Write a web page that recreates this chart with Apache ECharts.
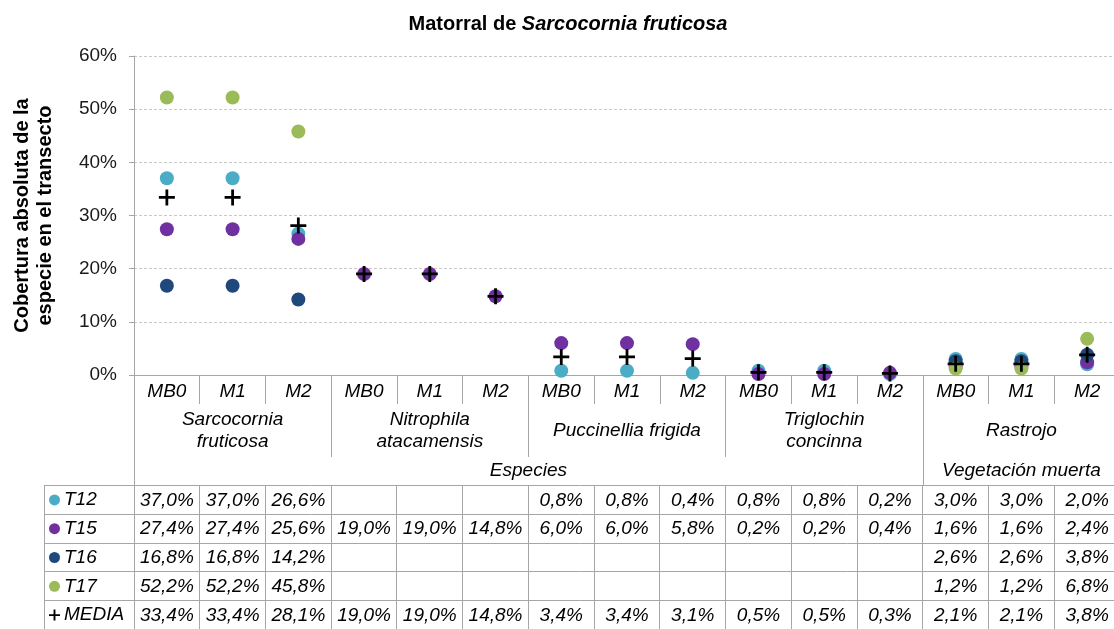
<!DOCTYPE html>
<html>
<head>
<meta charset="utf-8">
<script src="https://cdn.jsdelivr.net/npm/echarts@6/dist/echarts.min.js"></script>
<style>
  html, body { margin: 0; padding: 0; background: #fff; }
  #chart { width: 1114px; height: 629px; }
</style>
</head>
<body>
<div id="chart"></div>
<script>
// ---- data ----
const months = ['MB0', 'M1', 'M2'];
const species = ['Sarcocornia\nfruticosa', 'Nitrophila\natacamensis', 'Puccinellia frigida', 'Triglochin\nconcinna', 'Rastrojo'];
const speciesTypes = ['Especies', 'Vegetación muerta'];
const speciesTypeSpans = [12, 3];   // number of columns under each type
const categories = species.flatMap(() => months);

const seriesNames = ['T12', 'T15', 'T16', 'T17', 'MEDIA'];
const t12   = [37.0, 37.0, 26.6, null, null, null, 0.8, 0.8, 0.4, 0.8, 0.8, 0.2, 3.0, 3.0, 2.0];
const t15   = [27.4, 27.4, 25.6, 19.0, 19.0, 14.8, 6.0, 6.0, 5.8, 0.2, 0.2, 0.4, 1.6, 1.6, 2.4];
const t16   = [16.8, 16.8, 14.2, null, null, null, null, null, null, null, null, null, 2.6, 2.6, 3.8];
const t17   = [52.2, 52.2, 45.8, null, null, null, null, null, null, null, null, null, 1.2, 1.2, 6.8];
const media = [33.4, 33.4, 28.1, 19.0, 19.0, 14.8, 3.4, 3.4, 3.1, 0.5, 0.5, 0.3, 2.1, 2.1, 3.8];
const seriesValues = [t12, t15, t16, t17, media];
const seriesColors = ['#4bacc6', '#7030a0', '#1f497d', '#9bbb59', '#000000'];

// ---- style / layout ----
const FONT = "'Liberation Sans', Arial, sans-serif";
const LINE_COLOR = '#a6a6a6';
const TABLE_LEFT = 44;
const TABLE_TOP = 485.5;
const ROW_H = 28.8;
const PLUS = 'path://M6.2,0H8.8V6.2H15V8.8H8.8V15H6.2V8.8H0V6.2H6.2Z';

const fmt = v => (v == null ? '' : v.toFixed(1).replace('.', ',') + '%');

// boundaries / centres of the species-type level
const typeBounds = [0];
speciesTypeSpans.forEach(s => typeBounds.push(typeBounds[typeBounds.length - 1] + s));
const typeCentres = speciesTypeSpans.map((s, i) => typeBounds[i] + s / 2);

const chart = echarts.init(document.getElementById('chart'), null, { renderer: 'canvas' });

const option = {
  animation: false,
  backgroundColor: '#fff',
  textStyle: { fontFamily: FONT },
  title: {
    text: '{n|Matorral de }{i|Sarcocornia fruticosa}',
    left: 563,
    textAlign: 'center',
    top: 9,
    textStyle: {
      rich: {
        n: { fontFamily: FONT, fontSize: 20, fontWeight: 'bold', color: '#000' },
        i: { fontFamily: FONT, fontSize: 20, fontWeight: 'bold', fontStyle: 'italic', color: '#000' }
      }
    }
  },
  legend: {
    orient: 'vertical',
    left: 49,
    top: TABLE_TOP + 4.4,
    padding: 0,
    itemWidth: 11,
    itemHeight: 11,
    itemGap: ROW_H - 20,
    selectedMode: false,
    data: seriesNames,
    textStyle: { fontFamily: FONT, fontSize: 19, fontStyle: 'italic', color: '#000', lineHeight: 20, padding: [0, 0, 0, -1] }
  },
  grid: { left: 134, top: 56, width: 986, height: 319, outerBoundsMode: 'none', containLabel: false },
  xAxis: [
    {
      type: 'category',
      data: categories,
      position: 'bottom',
      axisLine: { show: true, lineStyle: { color: LINE_COLOR } },
      axisTick: { show: true, interval: 0, length: 29, lineStyle: { color: LINE_COLOR } },
      axisLabel: { interval: 0, margin: 7, fontSize: 19, fontStyle: 'italic', color: '#000', fontFamily: FONT }
    },
    {
      type: 'category',
      data: species,
      position: 'bottom',
      axisLine: { show: false },
      axisTick: { show: true, interval: 0, length: 82, lineStyle: { color: LINE_COLOR } },
      axisLabel: { interval: 0, margin: 56, verticalAlign: 'middle', lineHeight: 22, fontSize: 19, fontStyle: 'italic', color: '#000', fontFamily: FONT }
    },
    {
      type: 'value',
      min: 0,
      max: typeBounds[typeBounds.length - 1],
      position: 'bottom',
      axisLine: { show: false },
      splitLine: { show: false },
      axisTick: { show: true, customValues: typeBounds, length: 111, lineStyle: { color: LINE_COLOR } },
      axisLabel: {
        customValues: typeCentres,
        margin: 96,
        verticalAlign: 'middle',
        fontSize: 19, fontStyle: 'italic', color: '#000', fontFamily: FONT,
        formatter: v => speciesTypes[typeCentres.indexOf(v)] || ''
      }
    }
  ],
  yAxis: {
    type: 'value',
    min: 0,
    max: 60,
    interval: 10,
    name: 'Cobertura absoluta de la\nespecie en el transecto',
    nameLocation: 'middle',
    nameRotate: 90,
    nameGap: 77,
    nameTextStyle: { fontFamily: FONT, fontSize: 20, fontWeight: 'bold', color: '#000', lineHeight: 23 },
    axisLine: { show: true, lineStyle: { color: LINE_COLOR } },
    axisTick: { show: true, length: 5, lineStyle: { color: LINE_COLOR } },
    axisLabel: { formatter: '{value}%', margin: 17, fontSize: 19, color: '#1a1a1a', fontFamily: FONT },
    splitLine: { show: true, lineStyle: { color: '#c8c8c8', type: [3, 2], width: 1 } }
  },
  series: seriesNames.map((name, i) => ({
    name,
    type: 'scatter',
    xAxisIndex: 0,
    yAxisIndex: 0,
    symbol: name === 'MEDIA' ? PLUS : 'circle',
    symbolSize: name === 'MEDIA' ? 16 : 14,
    itemStyle: { color: seriesColors[i], opacity: 1 },
    z: 2 + i,
    data: seriesValues[i].map(v => (v == null ? '-' : v))
  }))
};

chart.setOption(option);

// ---- data table under the axis, laid out on the category scale ----
function buildTable() {
  const c0 = chart.convertToPixel({ xAxisIndex: 0 }, 0);
  const c1 = chart.convertToPixel({ xAxisIndex: 0 }, 1);
  const colW = c1 - c0;
  const leftEdge = c0 - colW / 2;
  const rightEdge = leftEdge + colW * categories.length;
  const bottom = TABLE_TOP + ROW_H * seriesNames.length;
  const els = [];
  const crisp = v => Math.round(v - 0.5) + 0.5;

  for (let r = 0; r <= seriesNames.length; r++) {
    const y = crisp(TABLE_TOP + r * ROW_H);
    els.push({ type: 'line', silent: true, shape: { x1: TABLE_LEFT, y1: y, x2: rightEdge, y2: y }, style: { stroke: LINE_COLOR, lineWidth: 1 } });
  }
  const vx = [TABLE_LEFT];
  for (let k = 0; k <= categories.length; k++) vx.push(leftEdge + k * colW);
  vx.forEach(x => {
    const cx = crisp(x);
    els.push({ type: 'line', silent: true, shape: { x1: cx, y1: crisp(TABLE_TOP), x2: cx, y2: bottom }, style: { stroke: LINE_COLOR, lineWidth: 1 } });
  });

  seriesValues.forEach((vals, r) => {
    const yc = TABLE_TOP + (r + 0.5) * ROW_H + 0.5;
    vals.forEach((v, i) => {
      if (v == null) return;
      els.push({
        type: 'text', silent: true,
        style: {
          text: fmt(v),
          x: chart.convertToPixel({ xAxisIndex: 0 }, i),
          y: yc,
          align: 'center',
          verticalAlign: 'middle',
          font: "italic 19px 'Liberation Sans', Arial, sans-serif",
          fill: '#000'
        }
      });
    });
  });
  chart.setOption({ graphic: els });
}
buildTable();
</script>
</body>
</html>
